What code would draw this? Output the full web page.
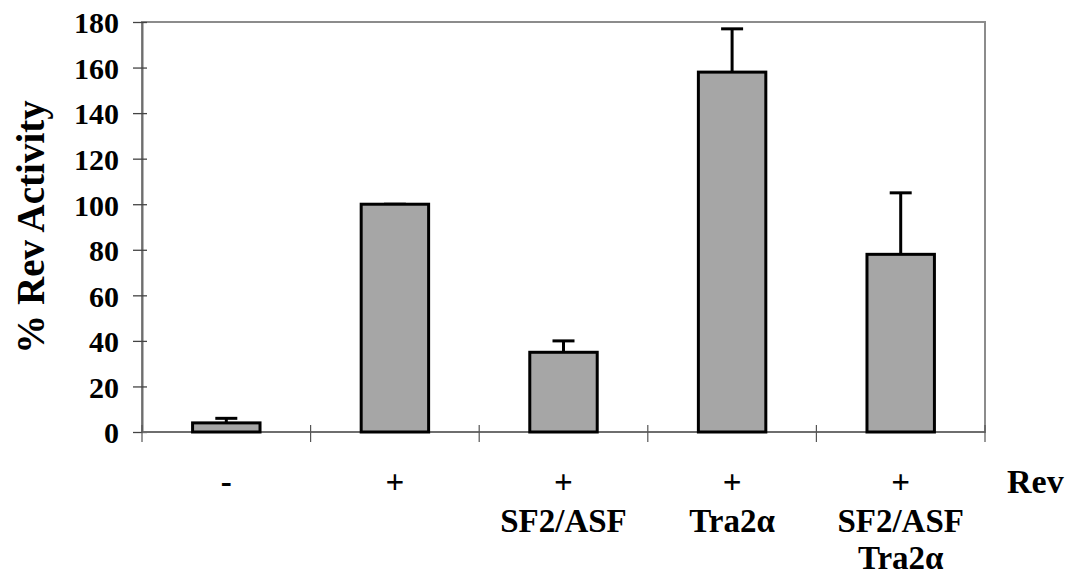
<!DOCTYPE html>
<html lang="en">
  <head>
    <meta charset="UTF-8" />
    <title>Rev Activity</title>
    <style>
      body {
        margin: 0;
        background: #fff;
      }
      svg {
        display: block;
      }
      svg text {
        font-family: "Liberation Serif", Tinos, "Times New Roman", Times,
          "DejaVu Serif", serif !important;
        font-weight: bold;
        fill: #000;
      }
    </style>
  </head>
  <body>
    <script src="https://cdn.jsdelivr.net/npm/d3@7"></script>
    <script>
      const revRow = ["-", "+", "+", "+", "+"];
      const factorRow = ["", "", "SF2/ASF", "Tra2\u03b1", "SF2/ASF"];
      const factorRow2 = ["", "", "", "", "Tra2\u03b1"];
      const activity = [4, 100, 35, 158, 78];
      const errors = [2, 0, 5, 19, 27];
      const yTicks = [0, 20, 40, 60, 80, 100, 120, 140, 160, 180];

      const width = 1071;
      const height = 578;
      const plotLeft = 142;
      const plotRight = 985;
      const plotTop = 22;
      const plotBottom = 432;

      const svg = d3
        .select("body")
        .append("svg")
        .attr("width", width)
        .attr("height", height);

      const idx = d3.range(activity.length);
      const xScale = d3
        .scaleBand()
        .domain(idx)
        .range([plotLeft, plotRight])
        .paddingInner(0.6)
        .paddingOuter(0.3);
      const step = xScale.step();
      const yScale = d3
        .scaleLinear()
        .domain([0, 180])
        .range([plotBottom, plotTop]);

      // plot frame
      svg
        .append("rect")
        .attr("x", plotLeft)
        .attr("y", plotTop)
        .attr("width", plotRight - plotLeft)
        .attr("height", plotBottom - plotTop)
        .attr("fill", "none")
        .attr("stroke", "#8c8c8c")
        .attr("stroke-width", 2);

      // y axis
      const yAxis = d3
        .axisLeft(yScale)
        .tickValues(yTicks)
        .tickSizeInner(9)
        .tickSizeOuter(0)
        .tickPadding(14);
      const yg = svg
        .append("g")
        .attr("transform", "translate(" + plotLeft + ",0)")
        .call(yAxis);
      yg.select(".domain").attr("stroke", "#6e6e6e").attr("stroke-width", 2);
      yg.selectAll(".tick line")
        .attr("x1", -9)
        .attr("x2", 5)
        .attr("stroke", "#444")
        .attr("stroke-width", 1.3);
      yg.selectAll(".tick text")
        .attr("font-size", 30)
        .attr("dy", "0.36em");

      // x axis line with category boundary ticks
      svg
        .append("line")
        .attr("x1", plotLeft)
        .attr("x2", plotRight)
        .attr("y1", plotBottom)
        .attr("y2", plotBottom)
        .attr("stroke", "#6e6e6e")
        .attr("stroke-width", 2);
      svg
        .selectAll(".xtick")
        .data(d3.range(activity.length + 1))
        .enter()
        .append("line")
        .attr("class", "xtick")
        .attr("x1", i => plotLeft + i * step)
        .attr("x2", i => plotLeft + i * step)
        .attr("y1", plotBottom - 7)
        .attr("y2", plotBottom + 10)
        .attr("stroke", "#555")
        .attr("stroke-width", 1.2);

      // error bars (drawn first so bar outline covers the base)
      const eb = svg
        .selectAll(".err")
        .data(idx)
        .enter()
        .append("g")
        .attr("class", "err")
        .attr("stroke", "#000")
        .attr("stroke-width", 3);
      eb.append("line")
        .attr("x1", i => xScale(i) + xScale.bandwidth() / 2)
        .attr("x2", i => xScale(i) + xScale.bandwidth() / 2)
        .attr("y1", i => yScale(activity[i]))
        .attr("y2", i => yScale(activity[i] + errors[i]));
      eb.append("line")
        .attr("x1", i => xScale(i) + xScale.bandwidth() / 2 - 11)
        .attr("x2", i => xScale(i) + xScale.bandwidth() / 2 + 11)
        .attr("y1", i => yScale(activity[i] + errors[i]))
        .attr("y2", i => yScale(activity[i] + errors[i]));

      // bars
      svg
        .selectAll(".bar")
        .data(idx)
        .enter()
        .append("rect")
        .attr("class", "bar")
        .attr("x", i => xScale(i))
        .attr("y", i => yScale(activity[i]))
        .attr("width", xScale.bandwidth())
        .attr("height", i => plotBottom - yScale(activity[i]))
        .attr("fill", "#a6a6a6")
        .attr("stroke", "#000")
        .attr("stroke-width", 3);

      // category labels
      const cx = i => xScale(i) + xScale.bandwidth() / 2;
      const rows = [
        { labels: revRow, y: 493 },
        { labels: factorRow, y: 532 },
        { labels: factorRow2, y: 569 }
      ];
      rows.forEach(r => {
        svg
          .append("g")
          .selectAll("text")
          .data(idx)
          .enter()
          .append("text")
          .attr("x", cx)
          .attr("y", r.y)
          .attr("text-anchor", "middle")
          .attr("font-size", 33)
          .text(i => r.labels[i]);
      });
      svg
        .append("text")
        .attr("x", 1007)
        .attr("y", 493)
        .attr("font-size", 34)
        .text("Rev");

      // y title
      svg
        .append("text")
        .attr(
          "transform",
          "translate(44," + (plotTop + plotBottom) / 2 + ") rotate(-90)"
        )
        .attr("text-anchor", "middle")
        .attr("font-size", 39)
        .text("% Rev Activity");
    </script>
  </body>
</html>
